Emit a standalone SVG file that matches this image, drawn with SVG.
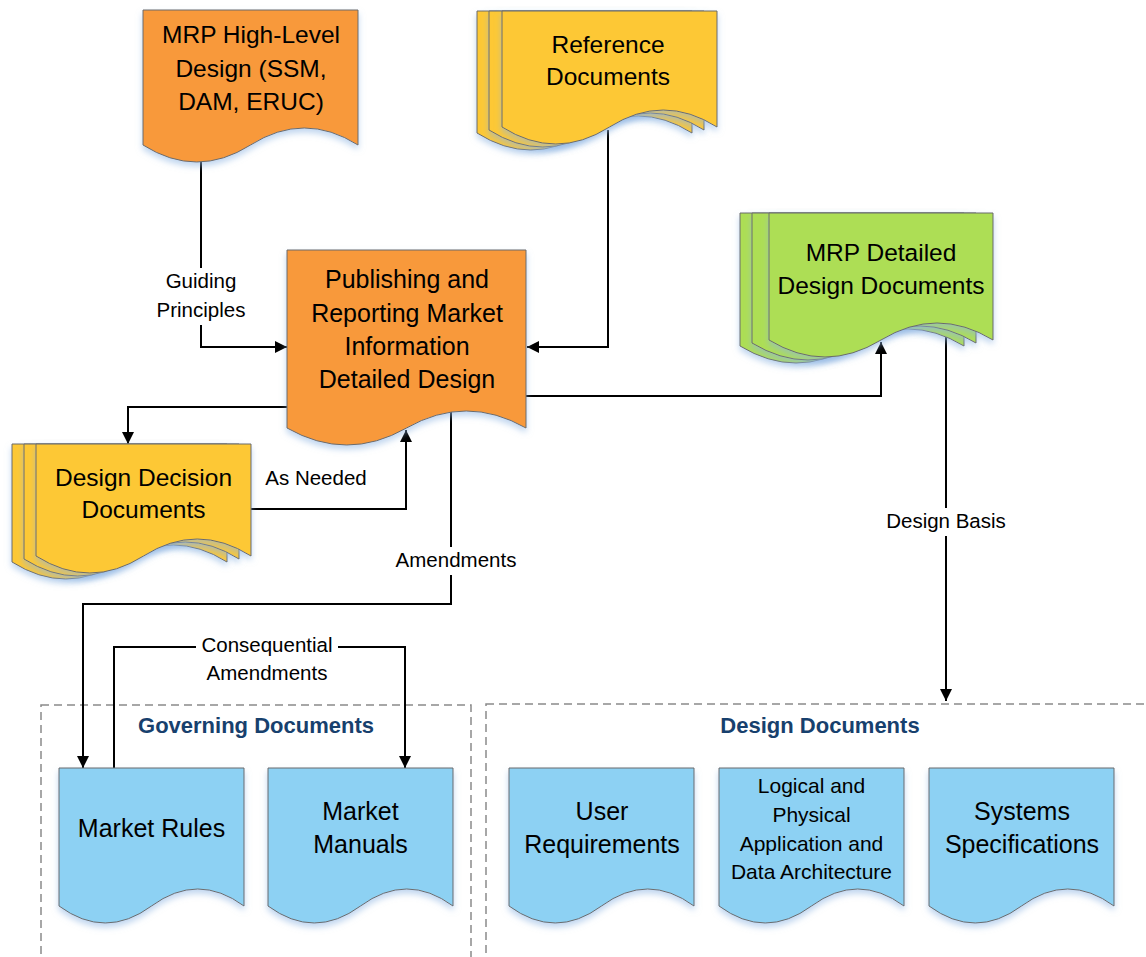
<svg xmlns="http://www.w3.org/2000/svg" width="1146" height="957" viewBox="0 0 1146 957">
<style>
  .doc{stroke:#6b6b6b;stroke-width:1;filter:url(#sh)}
  .or{fill:#F8993A}
  .ye{fill:#FDC834}
  .gr{fill:#ADDE54}
  .bl{fill:#8DD1F3}
  .t{font-family:"Liberation Sans",Arial,sans-serif;font-size:24.5px;fill:#000;text-anchor:middle}
  .tb{font-size:25px}
  .ts{font-size:21px}
  .lb{font-family:"Liberation Sans",Arial,sans-serif;font-size:20.5px;fill:#000;text-anchor:middle}
  .ttl{font-family:"Liberation Sans",Arial,sans-serif;font-size:22px;font-weight:bold;fill:#17406d;text-anchor:middle}
  .cn{fill:none;stroke:#000;stroke-width:2}
  .ar{marker-end:url(#ah)}
  .grp{fill:none;stroke:#8a8a8a;stroke-width:1.5;stroke-dasharray:8 5}
</style>
<defs>
  <filter id="sh" x="-10%" y="-10%" width="120%" height="135%">
    <feGaussianBlur in="SourceAlpha" stdDeviation="3"/>
    <feOffset dy="4" result="b"/>
    <feFlood flood-color="#8db4e2" flood-opacity="0.55"/>
    <feComposite in2="b" operator="in"/>
    <feMerge><feMergeNode/><feMergeNode in="SourceGraphic"/></feMerge>
  </filter>
  <marker id="ah" markerUnits="userSpaceOnUse" markerWidth="13" markerHeight="13" refX="12" refY="6" orient="auto">
    <path d="M0,0 L12,6 L0,12 Z" fill="#000"/>
  </marker>
</defs>

<g id="group-governing">
  <rect class="grp" x="41" y="705" width="430" height="260"/>
  <text class="ttl" x="256" y="733">Governing Documents</text>
</g>
<g id="group-design">
  <rect class="grp" x="486" y="704" width="680" height="270"/>
  <text class="ttl" x="820" y="733">Design Documents</text>
</g>

<g id="connectors">
  <path class="cn ar" d="M201,160 V347 H287"/>
  <path class="cn ar" d="M608,130 V347 H527"/>
  <path class="cn ar" d="M526,396 H881 V342"/>
  <path class="cn ar" d="M946,337 V701"/>
  <path class="cn ar" d="M287,407 H128 V444"/>
  <path class="cn ar" d="M251,509 H406 V430"/>
  <path class="cn ar" d="M451,412 V604 H83 V768"/>
  <path class="cn ar" d="M114,768 V647 H405 V768"/>
  <rect x="160" y="268" width="82" height="57" fill="#fff"/>
  <rect x="390" y="547" width="132" height="28" fill="#fff"/>
  <rect x="884" y="508" width="124" height="28" fill="#fff"/>
  <rect x="196" y="634" width="142" height="52" fill="#fff"/>
  <text class="lb" x="201" y="288">Guiding</text>
  <text class="lb" x="201" y="317">Principles</text>
  <text class="lb" x="316" y="485">As Needed</text>
  <text class="lb" x="456" y="567">Amendments</text>
  <text class="lb" x="946" y="528">Design Basis</text>
  <text class="lb" x="267" y="652">Consequential</text>
  <text class="lb" x="267" y="680">Amendments</text>
</g>

<g id="node-mrp-hld">
  <path class="doc or" d="M143,10 H358 V145 Q304.25,111 250.5,145 T143,145 Z"/>
  <text class="t" x="251" y="43">MRP High-Level</text>
  <text class="t" x="251" y="77">Design (SSM,</text>
  <text class="t" x="251" y="110">DAM, ERUC)</text>
</g>

<g id="node-reference">
  <path class="doc ye" d="M477,11 H692 V133 Q638.25,99 584.5,133 T477,133 Z"/>
  <path class="doc ye" d="M489,11 H704 V130 Q650.25,96 596.5,130 T489,130 Z"/>
  <path class="doc ye" d="M502,11 H717 V127 Q663.25,93 609.5,127 T502,127 Z"/>
  <text class="t" x="608" y="53">Reference</text>
  <text class="t" x="608" y="85">Documents</text>
</g>

<g id="node-main">
  <path class="doc or" d="M287,250 H526 V428 Q466.25,394 406.5,428 T287,428 Z"/>
  <text class="t tb" x="407" y="288">Publishing and</text>
  <text class="t tb" x="407" y="322">Reporting Market</text>
  <text class="t tb" x="407" y="355">Information</text>
  <text class="t tb" x="407" y="388">Detailed Design</text>
</g>

<g id="node-mrp-detailed">
  <path class="doc gr" d="M740,213 H964 V346 Q908,312 852,346 T740,346 Z"/>
  <path class="doc gr" d="M752,213 H976 V343 Q920,309 864,343 T752,343 Z"/>
  <path class="doc gr" d="M769,213 H993 V340 Q937,306 881,340 T769,340 Z"/>
  <text class="t" x="881" y="261">MRP Detailed</text>
  <text class="t" x="881" y="294">Design Documents</text>
</g>

<g id="node-design-decision">
  <path class="doc ye" d="M12,444 H227 V562 Q173.25,528 119.5,562 T12,562 Z"/>
  <path class="doc ye" d="M24,444 H239 V559 Q185.25,525 131.5,559 T24,559 Z"/>
  <path class="doc ye" d="M36,444 H251 V556 Q197.25,522 143.5,556 T36,556 Z"/>
  <text class="t" x="143.5" y="486">Design Decision</text>
  <text class="t" x="143.5" y="518">Documents</text>
</g>

<g id="node-market-rules">
  <path class="doc bl" d="M59,768 H244 V906 Q197.75,872 151.5,906 T59,906 Z"/>
  <text class="t tb" x="151.5" y="837">Market Rules</text>
</g>
<g id="node-market-manuals">
  <path class="doc bl" d="M268,768 H453 V906 Q406.75,872 360.5,906 T268,906 Z"/>
  <text class="t tb" x="360.5" y="820">Market</text>
  <text class="t tb" x="360.5" y="853">Manuals</text>
</g>
<g id="node-user-req">
  <path class="doc bl" d="M509,768 H694 V906 Q647.75,872 601.5,906 T509,906 Z"/>
  <text class="t tb" x="602" y="820">User</text>
  <text class="t tb" x="602" y="853">Requirements</text>
</g>
<g id="node-logical">
  <path class="doc bl" d="M719,768 H904 V906 Q857.75,872 811.5,906 T719,906 Z"/>
  <text class="t ts" x="811.5" y="793">Logical and</text>
  <text class="t ts" x="811.5" y="822">Physical</text>
  <text class="t ts" x="811.5" y="851">Application and</text>
  <text class="t ts" x="811.5" y="879">Data Architecture</text>
</g>
<g id="node-systems">
  <path class="doc bl" d="M929,768 H1114 V906 Q1067.75,872 1021.5,906 T929,906 Z"/>
  <text class="t tb" x="1022" y="820">Systems</text>
  <text class="t tb" x="1022" y="853">Specifications</text>
</g>
</svg>
